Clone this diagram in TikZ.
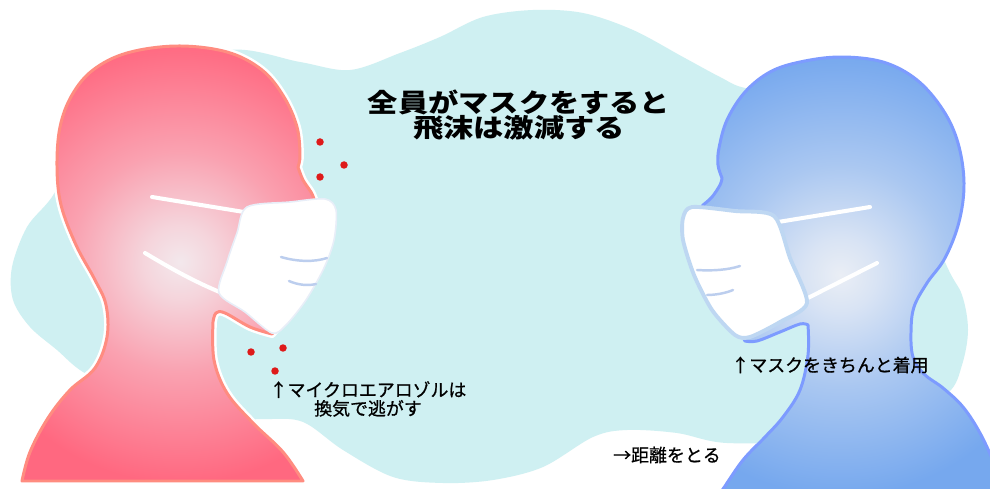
\documentclass[tikz,border=0pt]{standalone}
\usepackage{fontspec}
\newfontfamily\jp{Noto Sans CJK JP}
\newfontfamily\jpmid{Noto Sans CJK JP}[FakeBold=0.8]
\definecolor{bgcyan}{RGB}{207,240,242}
\definecolor{redskin}{RGB}{255,104,128}
\definecolor{rededge}{RGB}{255,140,128}
\definecolor{redglow}{RGB}{243,232,236}
\definecolor{blueskin}{RGB}{118,168,238}
\definecolor{blueedge}{RGB}{125,155,255}
\definecolor{blueglow}{RGB}{234,238,245}
\definecolor{maskrim}{RGB}{190,215,242}
\definecolor{maskrimpale}{RGB}{232,238,248}
\definecolor{pleatblue}{RGB}{188,206,238}
\definecolor{droplet}{RGB}{222,26,26}

% soft highlight on the cheeks, fading out to the skin colour
\pgfdeclareradialshading{redshine}{\pgfpoint{0bp}{0bp}}{%
  color(0bp)=(redglow); color(4bp)=(redglow!85!redskin); color(12bp)=(redglow!45!redskin);
  color(24bp)=(redskin); color(50bp)=(redskin)}
\pgfdeclareradialshading{blueshine}{\pgfpoint{0bp}{0bp}}{%
  color(0bp)=(blueglow); color(4bp)=(blueglow!85!blueskin); color(12bp)=(blueglow!45!blueskin);
  color(24bp)=(blueskin); color(50bp)=(blueskin)}

% outline of the left (red) head
\newcommand\RedHead{(22,481) -- plot[smooth, tension=0.6] coordinates {(22,481) (30,452) (48,418) (70,390) (95,368) (107,337) (106,305) (95,280) (76,245) (61,205) (57,167) (60,127) (72,95) (93,70) (127,53) (177,46) (227,52) (262,70) (284,97) (297,127) (300,155) (298,167)}
 -- plot[smooth, tension=0.6] coordinates {(298,167) (303,180) (311,192) (314,199)}
 -- (325,215) -- (300,300) -- (272,334)
 -- plot[smooth, tension=0.6] coordinates {(272,334) (250,327) (225,313) (216,313) (213,322)}
 -- plot[smooth, tension=0.6] coordinates {(213,322) (214,360) (227,393) (253,423) (283,452) (303,481)} -- cycle}

% outline of the right (blue) head
\newcommand\BlueHead{(703,205) -- plot[smooth, tension=0.6] coordinates {(703,205) (712,197) (720,185) (722,178)}
 -- plot[smooth, tension=0.6] coordinates {(722,178) (718,165) (719,148) (727,120) (745,92) (770,72) (800,62) (840,57) (883,62) (917,80) (943,110) (958,143) (964,183) (959,222) (945,258) (927,283) (914,307) (911,332) (913,357) (924,374) (943,388) (963,407) (980,433) (995,465) (1010,500)}
 -- (715,500)
 -- plot[smooth, tension=0.6] coordinates {(715,500) (723,489) (743,460) (765,437) (783,417) (800,390) (808,355) (808,325)}
 -- plot[smooth, tension=0.6] coordinates {(808,325) (800,324) (780,332) (757,341) (745,341)}
 -- (710,280) -- (695,220) -- cycle}

\begin{document}
\begin{tikzpicture}[x=0.02cm,y=-0.02cm,
  sticker/.style={draw=white, line width=4.5pt, line join=round},
  headrim/.style={line width=1.7pt, line join=round},
  strap/.style={draw=white, line width=2.3pt, line cap=round},
  pleat/.style={draw=pleatblue, line width=1.4pt, line cap=round},
  drop/.style={fill=droplet},
  caption/.style={font=\jpmid\fontsize{10.2}{10.6}\selectfont, align=center, inner sep=0pt},
  headline/.style={font=\jp\bfseries\fontsize{14.7}{14.2}\selectfont, align=center, inner sep=0pt, xscale=1.17}]

\useasboundingbox (0,0) rectangle (990,489);
\clip (0,0) rectangle (990,489);
\fill[white] (0,0) rectangle (990,489);

% background cloud
\fill[bgcyan] plot[smooth cycle, tension=0.55] coordinates {
 (52,197) (27,227) (12,267) (13,300) (30,327) (57,350) (83,372)
 (130,395) (200,420) (265,419) (303,422) (343,450) (393,477) (443,483) (493,480)
 (543,467) (593,437) (627,430) (677,433) (727,443) (820,440) (900,420) (948,393)
 (962,365) (968,330) (962,295) (945,262) (900,150) (800,95) (745,88) (720,77)
 (683,57) (633,30) (583,13) (533,10) (483,17) (440,37) (400,53) (350,70) (300,62)
 (230,50) (150,80) (80,150)};

% ---- left head ----
\draw[sticker] \RedHead;
\begin{scope}
  \clip \RedHead;
  \fill[redskin] (0,0) rectangle (400,489);
  \shade[shading=redshine] (180,262) circle[radius=4.6cm];
\end{scope}
\draw[headrim, draw=rededge] \RedHead;

% droplets
\foreach \p/\q [count=\i] in {320/142, 344/165, 320/177, 251/352, 283/348, 275/371}
  \fill[drop] (\p,\q) circle[radius=0.075cm] coordinate (dot\i);

% straps and mask
\draw[strap] (152,197) -- (250,213);
\draw[strap] (145,253) .. controls (170,268) and (195,282) .. (222,293);
\draw[draw=maskrimpale, fill=white, line width=0.9pt] plot[smooth cycle, tension=0.5] coordinates {
 (247,207) (290,202) (325,199) (336,210) (334,240) (324,268) (306,300) (286,325) (272,333) (245,312) (219,293) (227,262) (237,233)};
\draw[pleat] (281,257) .. controls (298,262) and (315,262) .. (327,258);
\draw[pleat] (289,281) .. controls (298,285) and (308,286) .. (316,284);

% ---- right head ----
\begin{scope}
  \clip \BlueHead;
  \fill[blueskin] (650,0) rectangle (990,489);
  \shade[shading=blueshine] (840,275) circle[radius=4.6cm];
\end{scope}
\draw[headrim, draw=blueedge] \BlueHead;

\draw[strap] (772,223) -- (870,207);
\draw[strap] (800,302) -- (877,263);
\draw[draw=maskrim, fill=white, line width=2.2pt, line join=round] plot[smooth cycle, tension=0.45] coordinates {
 (692,207) (735,211) (774,216) (790,258) (807,303) (780,322) (750,337) (735,335) (712,310) (694,275) (683,240) (683,218)};
\draw[pleat] (697,270) .. controls (712,271) and (728,270) .. (740,266);
\draw[pleat] (707,295) .. controls (716,295) and (726,293) .. (733,290);

% ---- texts ----
\node[headline] (title) at (519,115) {全員がマスクをすると\\飛沫は激減する};
\node[caption] (aerosol) at (368,399) {↑マイクロエアロゾルは\\換気で逃がす};
\node[caption] (wear) at (830,365) {↑マスクをきちんと着用};
\node[caption] (distance) at (667,455) {→距離をとる};
\end{tikzpicture}
\end{document}
